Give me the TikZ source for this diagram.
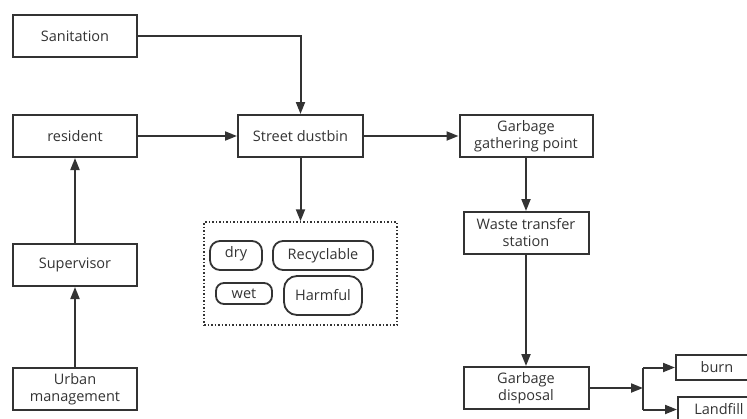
\documentclass[tikz,border=0pt]{standalone}
\usepackage{fontspec}
\setmainfont{Open Sans}
\usetikzlibrary{arrows.meta,positioning}
\definecolor{ink}{HTML}{333333}

\begin{document}
\begin{tikzpicture}
    [x=1pt, y=-1pt, font=\fontsize{14.5}{17}\selectfont, text=ink,
    box/.style={draw=ink, line width=2pt, minimum width=124pt,
        minimum height=42pt, align=center, inner sep=2pt},
    pill/.style={draw=ink, line width=1.8pt, rounded corners=10pt,
        inner sep=1pt},
    link/.style={draw=ink, line width=2pt,
        -{Triangle[length=12pt,width=9pt]}}]
    \clip (0,0) rectangle (747,418);
    % sources on the left
    \node [box] (sanit) at (75,36) {Sanitation};
    \node [box] (resident) at (75,136) {resident};
    \node [box] (supervisor) at (75,265) {Supervisor};
    \node [box] (urban) at (75,389) {Urban\\management};
    % main chain
    \node [box, minimum width=125pt] (dustbin) at (300.5,136) {Street dustbin};
    \node [box, minimum width=133pt] (gather) at (526,136) {Garbage\\gathering point};
    \node [box, minimum width=125pt] (transfer) at (526,233) {Waste transfer\\station};
    \node [box, minimum width=125pt] (disposal) at (526,388) {Garbage\\disposal};
    \node [box, minimum width=82pt, minimum height=25pt] (burn) at (717,367.5) {burn};
    \node [box, minimum width=82pt, minimum height=25pt] (landfill) at (719,409.5) {Landfill};
    % sorted bins
    \node [draw=ink, line width=1.5pt, dotted, minimum width=193pt,
        minimum height=103pt] (bins) at (300.5,273.5) {};
    \node [pill, minimum width=52pt, minimum height=29pt] (dry) at (236,255.5) {\raisebox{8pt}{dry}};
    \node [pill, minimum width=100pt, minimum height=29pt] (recycl) at (323,255.5) {Recyclable};
    \node [pill, minimum width=56pt, minimum height=21pt, rounded corners=8pt] (wet) at (244,293.5) {wet};
    \node [pill, minimum width=78pt, minimum height=39pt, rounded corners=13pt] (harmful) at (323,295.5) {Harmful};

    \draw [link] (sanit.east) -| (dustbin.north);
    \draw [link] (resident) -- (dustbin);
    \draw [link] (dustbin) -- (gather);
    \draw [link] (dustbin) -- (bins);
    \draw [link] (supervisor) -- (resident);
    \draw [link] (urban) -- (supervisor);
    \draw [link] (gather) -- (transfer);
    \draw [link] (transfer) -- (disposal);
    \coordinate (fork) at (643,388);
    \draw [link] (disposal) -- (fork);
    \draw [draw=ink, line width=2pt] (fork |- burn) -- (fork |- landfill);
    \draw [link] (fork |- burn) -- (burn);
    \draw [link] (fork |- landfill) -- (landfill);
\end{tikzpicture}
\end{document}
